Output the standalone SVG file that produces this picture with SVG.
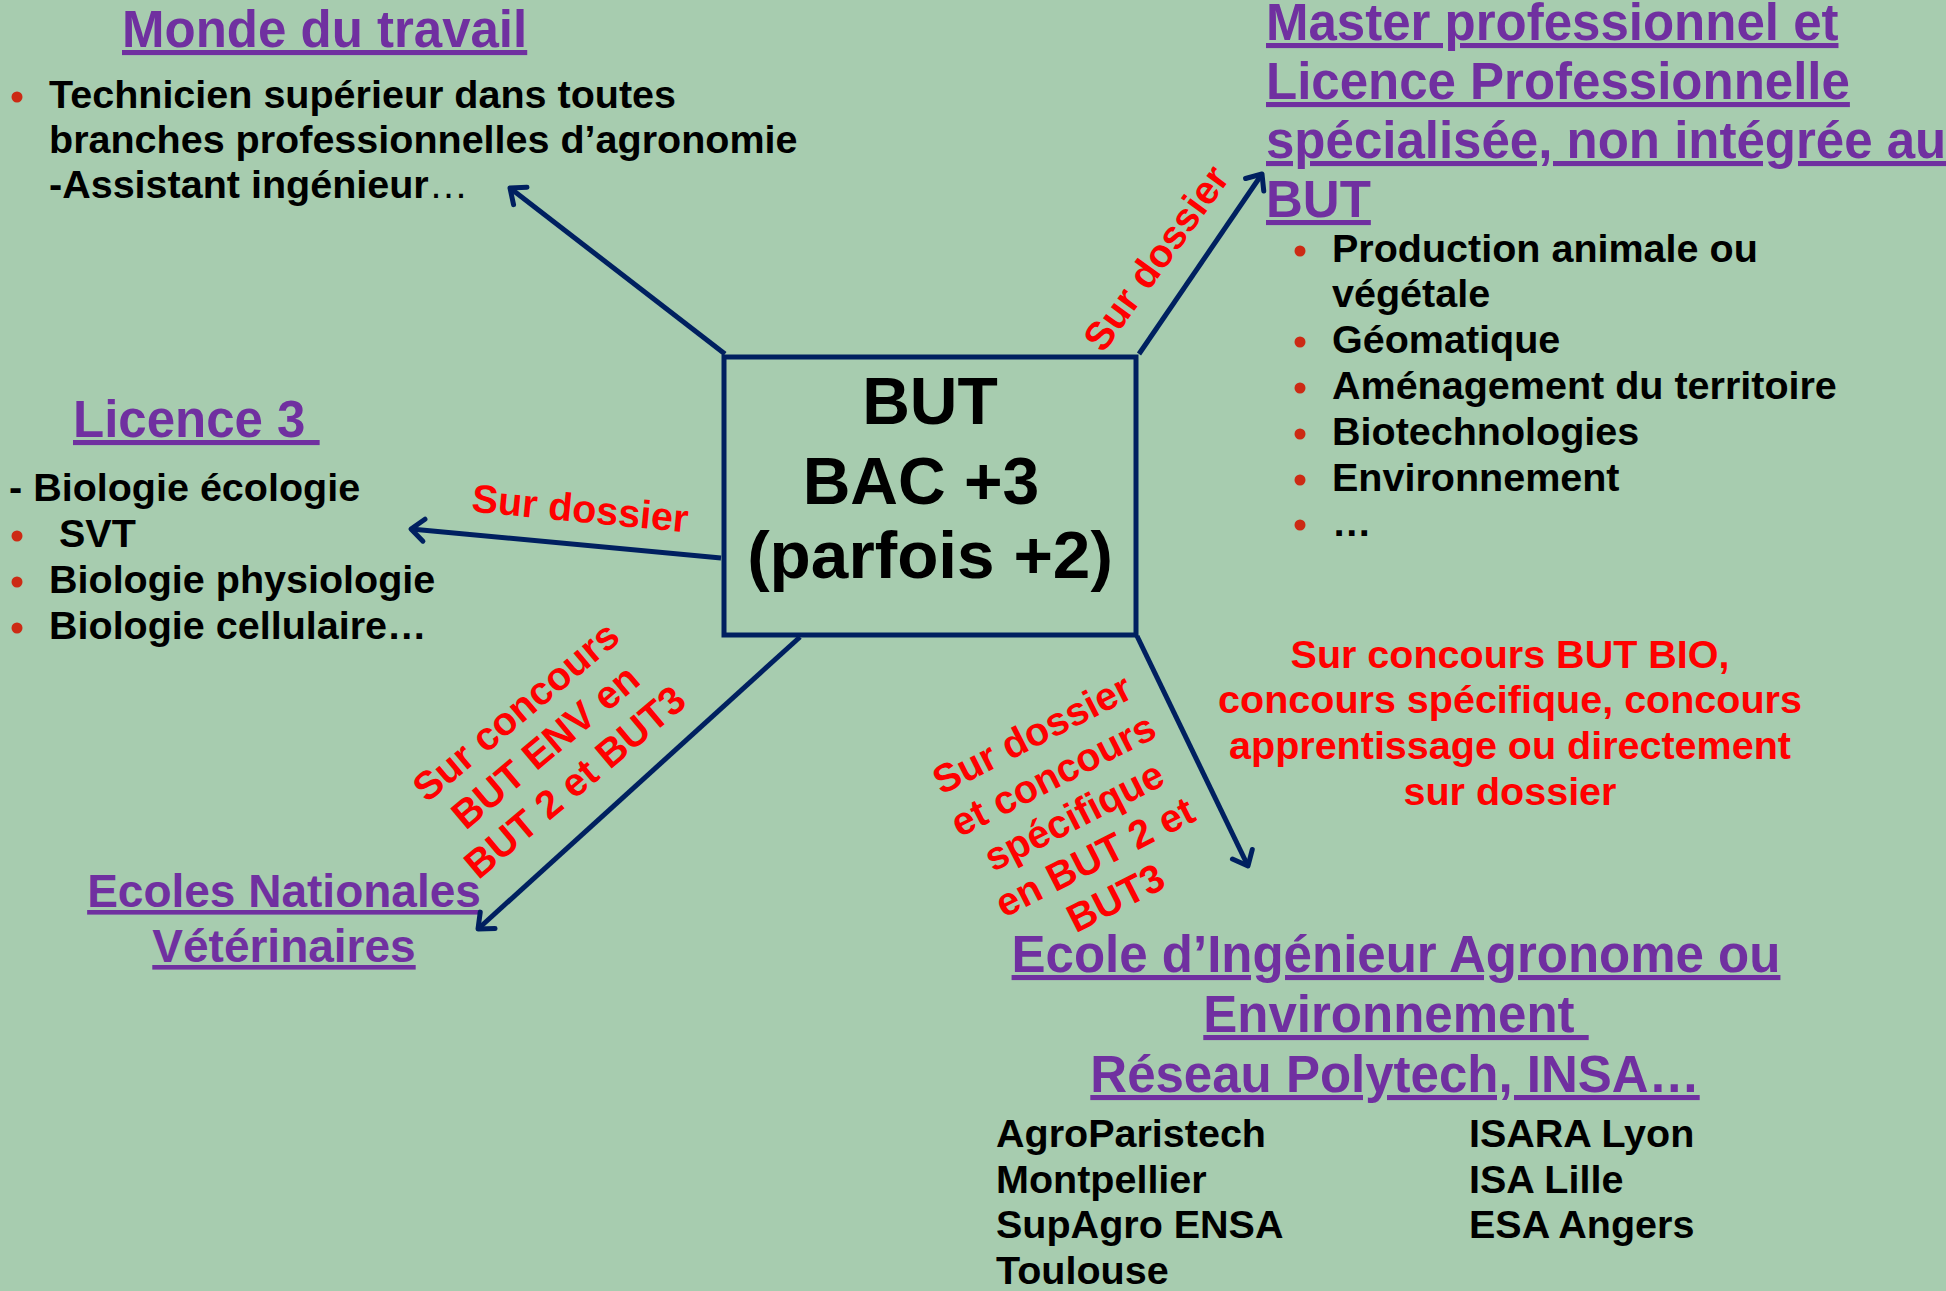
<svg xmlns="http://www.w3.org/2000/svg" width="1946" height="1291" viewBox="0 0 1946 1291">
<style>
text{font-family:"Liberation Sans",Arial,sans-serif;font-weight:bold}
.title{font-size:51px;fill:#7030A0;text-decoration:underline;text-decoration-thickness:4px}
.t46{font-size:46px}
.body{font-size:39.5px;fill:#000}
.red{font-size:39.5px;fill:#FF0000}
.big{font-size:66px;fill:#000}
.par{font-size:67.5px}
.bul{fill:#CC2A14}
.conn{stroke:#002060;stroke-width:5;fill:none;marker-end:url(#arr)}
.mid{text-anchor:middle}
</style>
<defs>
<marker id="arr" viewBox="-20 -15 25 30" refX="0" refY="0" markerWidth="25" markerHeight="30" markerUnits="userSpaceOnUse" orient="auto">
<path d="M-13,-11 L0,0 L-13,11" fill="none" stroke="#002060" stroke-width="5" stroke-linecap="round" stroke-linejoin="round"/>
</marker>
</defs>
<rect x="0" y="0" width="1946" height="1291" fill="#A7CCAF"/>

<g id="but">
<rect x="724" y="357" width="412" height="278" fill="none" stroke="#002060" stroke-width="5"/>
<text class="big mid" x="930" y="424">BUT</text>
<text class="big mid" x="921" y="504">BAC +3</text>
<text class="big par mid" x="930" y="578">(parfois +2)</text>
</g>

<g id="monde">
<text class="title" x="122" y="47">Monde du travail</text>
<circle class="bul" cx="17" cy="97" r="5.5"/>
<text class="body" x="49" y="108">Technicien supérieur dans toutes</text>
<text class="body" x="49" y="153">branches professionnelles d’agronomie</text>
<text class="body" x="49" y="198">-Assistant ingénieur<tspan font-weight="normal">…</tspan></text>
</g>

<g id="master">
<text class="title" x="1266" y="40">Master professionnel et</text>
<text class="title" x="1266" y="99">Licence Professionnelle</text>
<text class="title" x="1266" y="158">spécialisée, non intégrée au</text>
<text class="title" x="1266" y="217">BUT</text>
<circle class="bul" cx="1300" cy="251" r="5.5"/>
<text class="body" x="1332" y="262">Production animale ou</text>
<text class="body" x="1332" y="307">végétale</text>
<circle class="bul" cx="1300" cy="342" r="5.5"/>
<text class="body" x="1332" y="353">Géomatique</text>
<circle class="bul" cx="1300" cy="388" r="5.5"/>
<text class="body" x="1332" y="399">Aménagement du territoire</text>
<circle class="bul" cx="1300" cy="434" r="5.5"/>
<text class="body" x="1332" y="445">Biotechnologies</text>
<circle class="bul" cx="1300" cy="480" r="5.5"/>
<text class="body" x="1332" y="491">Environnement</text>
<circle class="bul" cx="1300" cy="525" r="5.5"/>
<text class="body" x="1332" y="536">…</text>
</g>

<g id="licence">
<text class="title" x="73" y="437" xml:space="preserve">Licence 3 </text>
<text class="body" x="9" y="501">- Biologie écologie</text>
<circle class="bul" cx="17" cy="536" r="5.5"/>
<text class="body" x="59" y="547">SVT</text>
<circle class="bul" cx="17" cy="582" r="5.5"/>
<text class="body" x="49" y="593">Biologie physiologie</text>
<circle class="bul" cx="17" cy="628" r="5.5"/>
<text class="body" x="49" y="639">Biologie cellulaire…</text>
</g>

<g id="ecoles-veto">
<text class="title t46 mid" x="284" y="907">Ecoles Nationales</text>
<text class="title t46 mid" x="284" y="962">Vétérinaires</text>
</g>

<g id="ecole-ingenieur">
<text class="title mid" x="1396" y="972">Ecole d’Ingénieur Agronome ou</text>
<text class="title mid" x="1396" y="1032" xml:space="preserve">Environnement </text>
<text class="title mid" x="1395" y="1092">Réseau Polytech, INSA…</text>
<text class="body" x="996" y="1147">AgroParistech</text>
<text class="body" x="996" y="1193">Montpellier</text>
<text class="body" x="996" y="1238">SupAgro ENSA</text>
<text class="body" x="996" y="1284">Toulouse</text>
<text class="body" x="1469" y="1147">ISARA Lyon</text>
<text class="body" x="1469" y="1193">ISA Lille</text>
<text class="body" x="1469" y="1238">ESA Angers</text>
</g>

<g id="note-bio">
<text class="red mid" x="1510" y="668">Sur concours BUT BIO,</text>
<text class="red mid" x="1510" y="713">concours spécifique, concours</text>
<text class="red mid" x="1510" y="759">apprentissage ou directement</text>
<text class="red mid" x="1510" y="805">sur dossier</text>
</g>

<g id="connectors">
<line class="conn" x1="725" y1="354" x2="510" y2="188"/>
<line class="conn" x1="721" y1="558" x2="411" y2="529"/>
<line class="conn" x1="1139" y1="354" x2="1262" y2="174"/>
<line class="conn" x1="800" y1="637" x2="478" y2="929"/>
<line class="conn" x1="1137" y1="636" x2="1248" y2="866"/>
<g id="labels">
<text class="red mid" transform="translate(579,522) rotate(5.5)">Sur dossier</text>
<text class="red mid" transform="translate(1167,266) rotate(-54)">Sur dossier</text>
<g transform="translate(554,757) rotate(-40)">
<text class="red mid" x="0" y="-46">Sur concours</text>
<text class="red mid" x="0" y="0">BUT ENV en</text>
<text class="red mid" x="0" y="46">BUT 2 et BUT3</text>
</g>
<g transform="translate(1080,828) rotate(-27)">
<text class="red mid" x="0" y="-92">Sur dossier</text>
<text class="red mid" x="0" y="-46">et concours</text>
<text class="red mid" x="0" y="0">spécifique</text>
<text class="red mid" x="0" y="46">en BUT 2 et</text>
<text class="red mid" x="0" y="92">BUT3</text>
</g>
</g>
</g>
</svg>
